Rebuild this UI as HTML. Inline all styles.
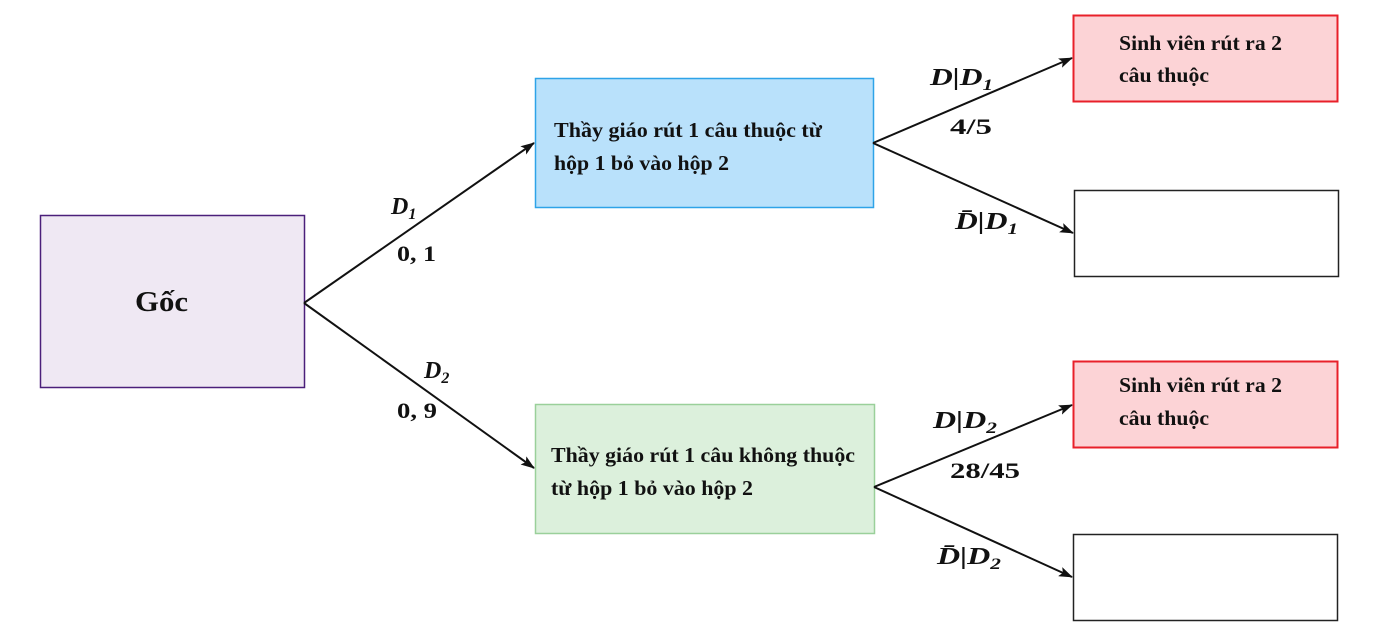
<!DOCTYPE html>
<html><head><meta charset="utf-8"><style>
body{margin:0;background:#fff}
svg{display:block}
.t{font-family:"Liberation Serif",serif;font-weight:bold;font-size:21px;fill:#111}
.m{font-family:"Liberation Serif",serif;font-weight:bold;font-style:italic;font-size:24px;fill:#111}
.n{font-family:"Liberation Serif",serif;font-weight:bold;font-size:22px;fill:#111}
.s{font-size:16px}
</style></head><body>
<svg width="1376" height="637" viewBox="0 0 1376 637">
<defs><marker id="a" markerWidth="14" markerHeight="10" refX="13" refY="5" orient="auto" markerUnits="userSpaceOnUse"><path d="M0,0 L14,5 L0,10 L3,5 Z" fill="#111"/></marker></defs>
<rect x="40.5" y="215.5" width="264" height="172" fill="#efe8f3" stroke="#4b1f7a" stroke-width="1.5"/>
<text x="135" y="311" class="t" style="font-size:28px" textLength="53" lengthAdjust="spacingAndGlyphs">Gốc</text>
<rect x="535.5" y="78.5" width="338" height="129" fill="#b9e1fb" stroke="#2ea3e8" stroke-width="1.5"/>
<text x="554" y="137" class="t" textLength="268" lengthAdjust="spacingAndGlyphs">Thầy giáo rút 1 câu thuộc từ</text>
<text x="554" y="170" class="t" textLength="175" lengthAdjust="spacingAndGlyphs">hộp 1 bỏ vào hộp 2</text>
<rect x="535.5" y="404.5" width="339" height="129" fill="#dcf0dc" stroke="#9ad09a" stroke-width="1.5"/>
<text x="551" y="462" class="t" textLength="304" lengthAdjust="spacingAndGlyphs">Thầy giáo rút 1 câu không thuộc</text>
<text x="551" y="495" class="t" textLength="202" lengthAdjust="spacingAndGlyphs">từ hộp 1 bỏ vào hộp 2</text>
<rect x="1073.5" y="15.5" width="264" height="86" fill="#fcd3d6" stroke="#e8202a" stroke-width="2"/>
<text x="1119" y="50" class="t" textLength="163" lengthAdjust="spacingAndGlyphs">Sinh viên rút ra 2</text>
<text x="1119" y="82" class="t" textLength="90" lengthAdjust="spacingAndGlyphs">câu thuộc</text>
<rect x="1074.5" y="190.5" width="264" height="86" fill="#fff" stroke="#222" stroke-width="1.5"/>
<rect x="1073.5" y="361.5" width="264" height="86" fill="#fcd3d6" stroke="#e8202a" stroke-width="2"/>
<text x="1119" y="392" class="t" textLength="163" lengthAdjust="spacingAndGlyphs">Sinh viên rút ra 2</text>
<text x="1119" y="425" class="t" textLength="90" lengthAdjust="spacingAndGlyphs">câu thuộc</text>
<rect x="1073.5" y="534.5" width="264" height="86" fill="#fff" stroke="#222" stroke-width="1.5"/>
<g stroke="#111" stroke-width="2" fill="none">
<line x1="304" y1="303" x2="534" y2="143" marker-end="url(#a)"/>
<line x1="304" y1="303" x2="534" y2="468" marker-end="url(#a)"/>
<line x1="873" y1="143" x2="1072" y2="58" marker-end="url(#a)"/>
<line x1="873" y1="143" x2="1073" y2="233" marker-end="url(#a)"/>
<line x1="874" y1="487" x2="1072" y2="405" marker-end="url(#a)"/>
<line x1="874" y1="487" x2="1072" y2="577" marker-end="url(#a)"/>
</g>
<text x="391" y="214" class="m">D<tspan class="s" dy="5">1</tspan></text>
<text x="397" y="261" class="n" textLength="39" lengthAdjust="spacingAndGlyphs">0, 1</text>
<text x="424" y="378" class="m">D<tspan class="s" dy="5">2</tspan></text>
<text x="397" y="418" class="n" textLength="40" lengthAdjust="spacingAndGlyphs">0, 9</text>
<text x="930" y="85" class="m" textLength="63" lengthAdjust="spacingAndGlyphs">D|D<tspan class="s" dy="5">1</tspan></text>
<text x="950" y="134" class="n" textLength="42" lengthAdjust="spacingAndGlyphs">4/5</text>
<text x="955" y="229" class="m" textLength="63" lengthAdjust="spacingAndGlyphs">D̄|D<tspan class="s" dy="5">1</tspan></text>
<text x="933" y="428" class="m" textLength="64" lengthAdjust="spacingAndGlyphs">D|D<tspan class="s" dy="5">2</tspan></text>
<text x="950" y="478" class="n" textLength="70" lengthAdjust="spacingAndGlyphs">28/45</text>
<text x="937" y="564" class="m" textLength="64" lengthAdjust="spacingAndGlyphs">D̄|D<tspan class="s" dy="5">2</tspan></text>
</svg>
</body></html>
